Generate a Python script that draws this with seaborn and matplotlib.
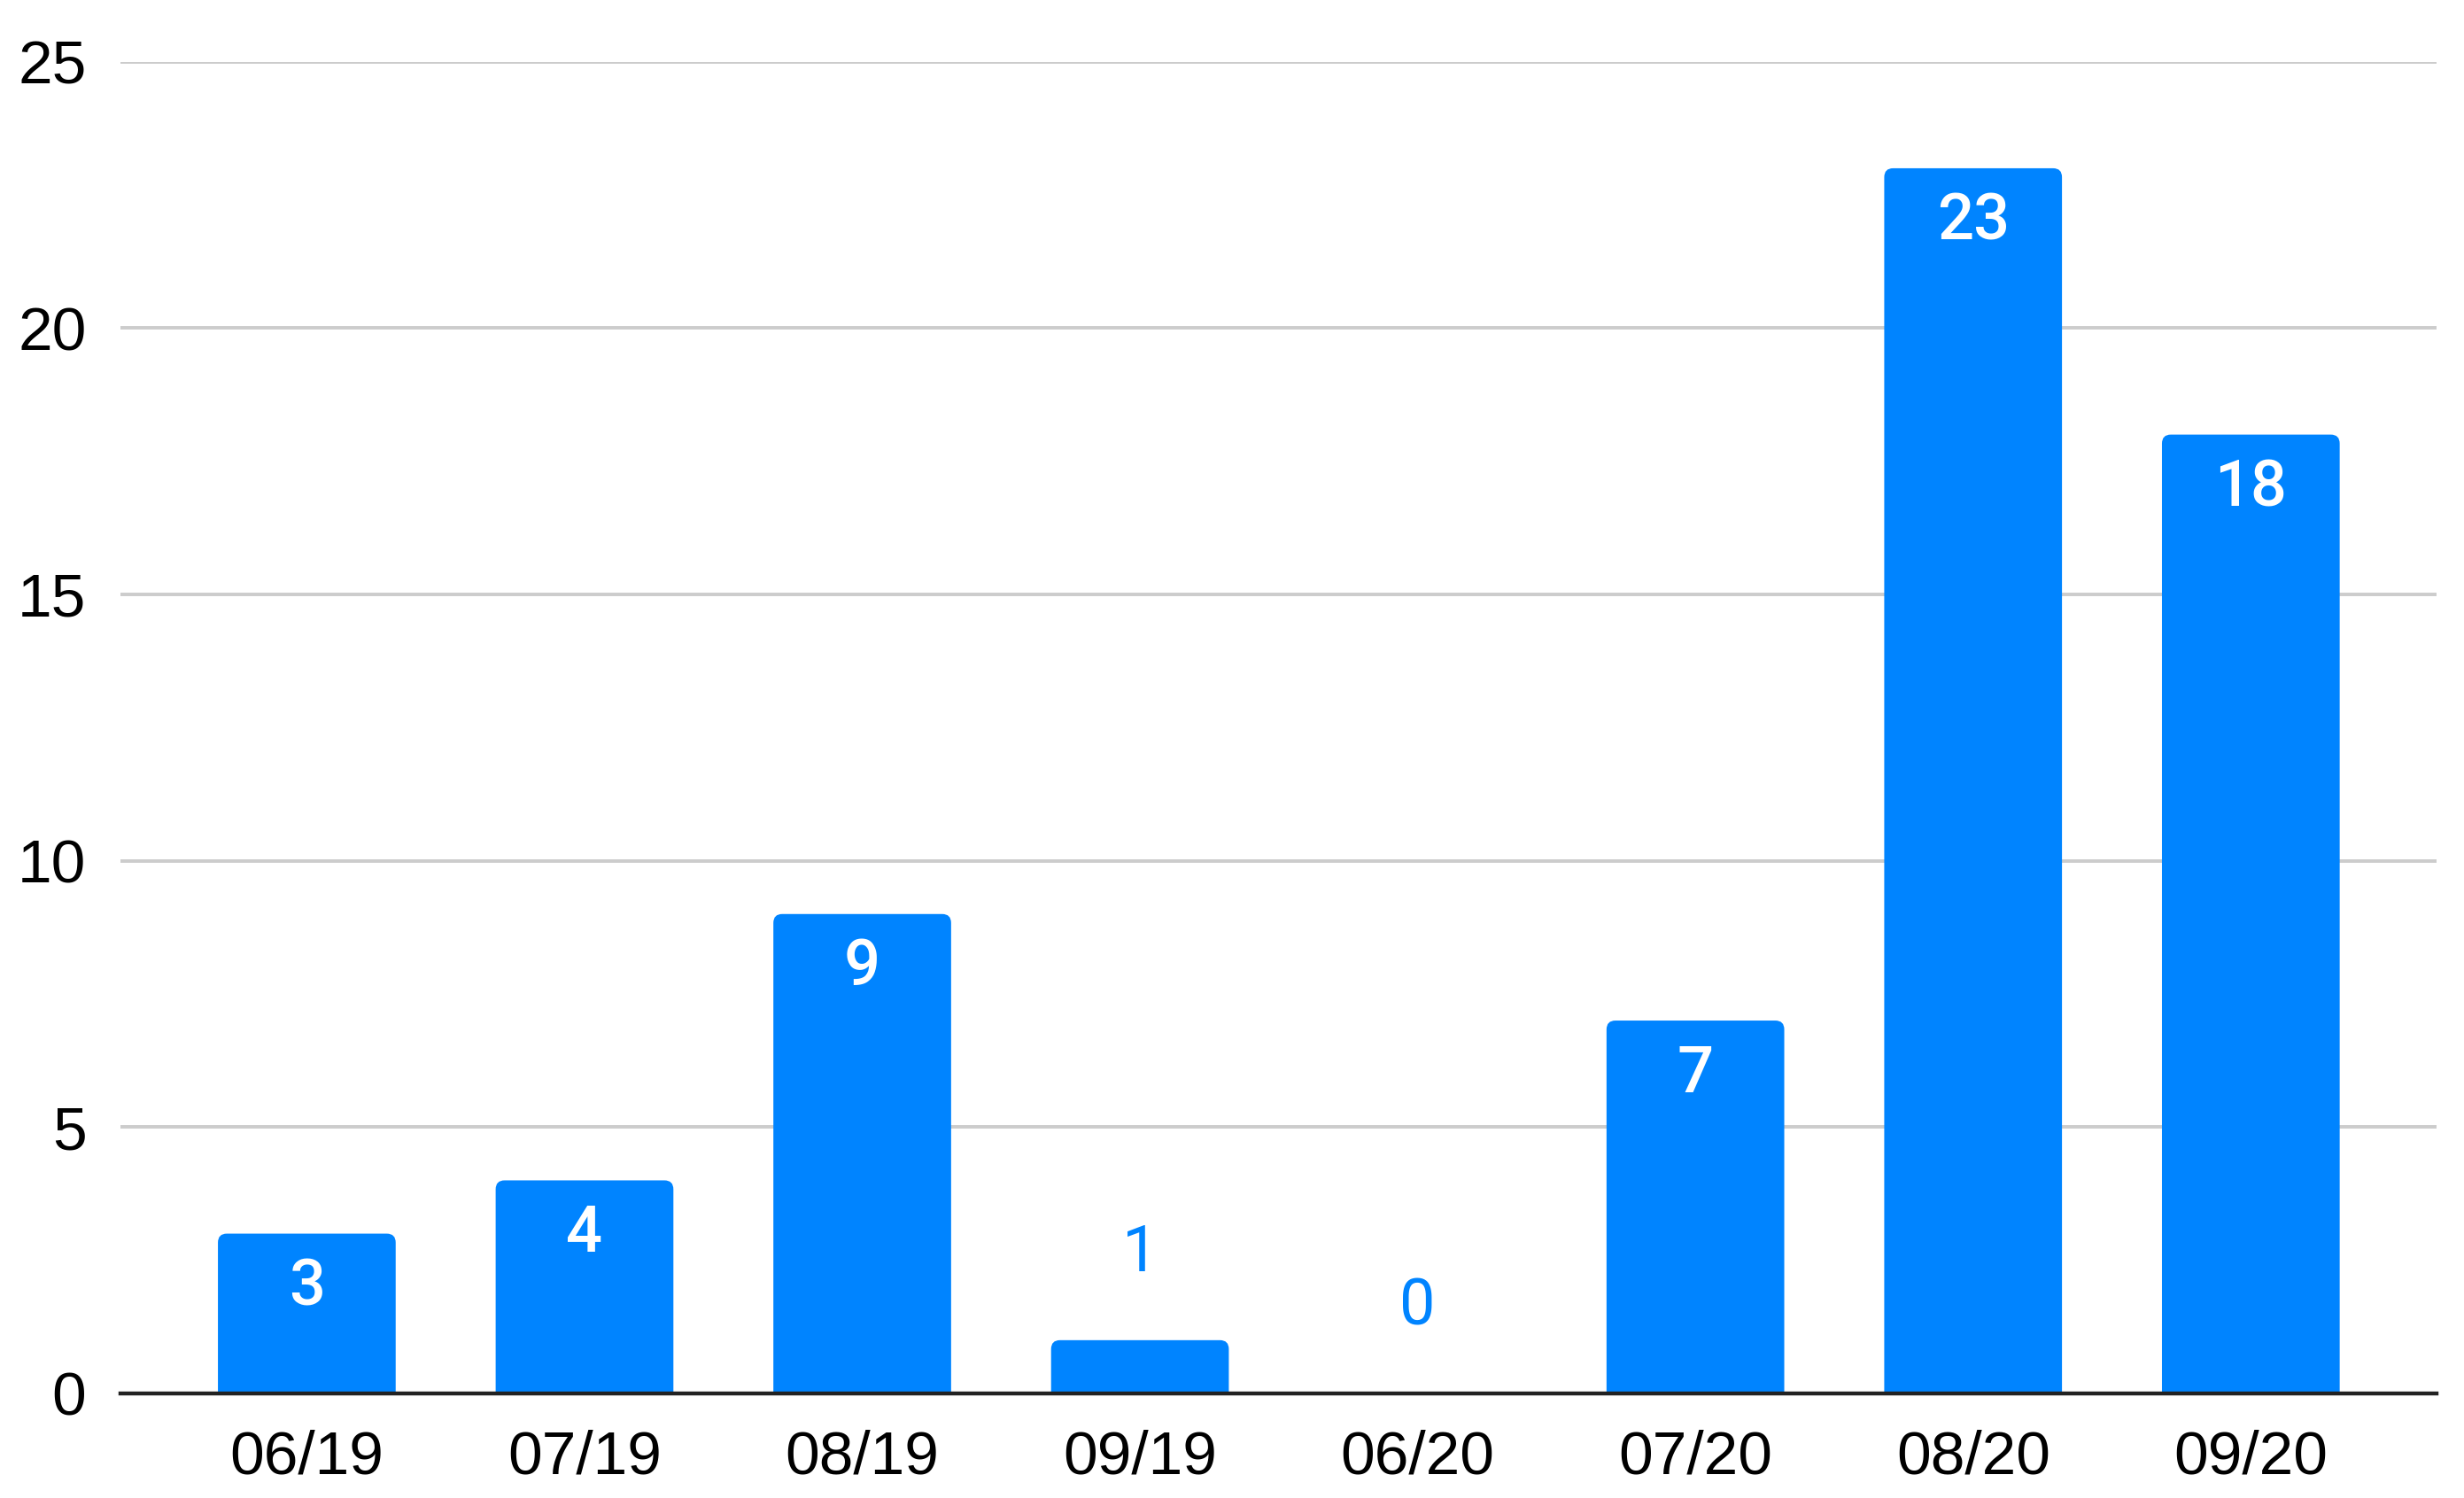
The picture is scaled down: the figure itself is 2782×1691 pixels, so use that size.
import matplotlib
matplotlib.use('Agg')
import pandas as pd
import matplotlib.pyplot as plt
import seaborn as sns
from matplotlib.patches import FancyBboxPatch

# datos
meses = ['06/19', '07/19', '08/19', '09/19', '06/20', '07/20', '08/20', '09/20']
valores = [3, 4, 9, 1, 0, 7, 23, 18]

AZUL = '#0084FF'

df = pd.DataFrame({'mes': meses, 'valor': valores})

sns.set_theme(style='white')
plt.rcParams['font.family'] = ['Liberation Sans', 'DejaVu Sans']

fig = plt.figure(figsize=(13.91, 8.455), dpi=200)
ax = fig.add_axes([0.049, 0.0698, 0.94, 0.889])

sns.barplot(data=df, x='mes', y='valor', color=AZUL, width=0.64,
            saturation=1, ax=ax, zorder=3)

ax.set_xlim(-0.67, len(meses) - 0.33)
ax.set_ylim(0, 25)
ax.set_yticks([0, 5, 10, 15, 20, 25])

# esquinas redondeadas (solo se ven las de arriba, lo de abajo queda recortado)
escala_x = 2782 * 0.94 / (len(meses) - 0.33 + 0.67)
escala_y = 1691 * 0.889 / 25
radio = 10 / escala_x
for p in list(ax.patches):
    x0, w, h = p.get_x(), p.get_width(), p.get_height()
    if h <= 0:
        p.remove()
        continue
    extra = 20 / escala_y
    nuevo = FancyBboxPatch((x0 + radio, -extra + radio * escala_x / escala_y),
                           w - 2 * radio, h + extra - 2 * radio * escala_x / escala_y,
                           boxstyle=f'round,pad={radio},rounding_size={radio}',
                           mutation_aspect=escala_x / escala_y,
                           facecolor=AZUL, edgecolor='none', zorder=3)
    p.remove()
    ax.add_patch(nuevo)

# etiquetas de valor
for i, v in enumerate(valores):
    if v >= 3:
        ax.annotate(str(v), (i, v), xytext=(0, -22), textcoords='offset points',
                    ha='center', va='center', color='white', fontsize=26,
                    fontweight='medium', family=['Roboto', 'DejaVu Sans'], zorder=5)
    else:
        ax.annotate(str(v), (i, v), xytext=(0, 35), textcoords='offset points',
                    ha='center', va='center', color=AZUL, fontsize=26,
                    family=['Roboto', 'DejaVu Sans'], zorder=5)

ax.grid(axis='y', color='#cccccc', linewidth=1.4, zorder=0)
ax.grid(axis='x', visible=False)
for lado in ['top', 'right', 'left']:
    ax.spines[lado].set_visible(False)
ax.spines['bottom'].set_color('#222222')
ax.spines['bottom'].set_linewidth(1.6)
ax.spines['bottom'].set_zorder(4)

ax.tick_params(axis='y', length=0, pad=14, labelsize=25, colors='black')
ax.tick_params(axis='x', length=0, pad=14.5, labelsize=25, colors='black')
ax.set_xlabel('')
ax.set_ylabel('')

plt.savefig('out.png', dpi=200)
plt.close()
